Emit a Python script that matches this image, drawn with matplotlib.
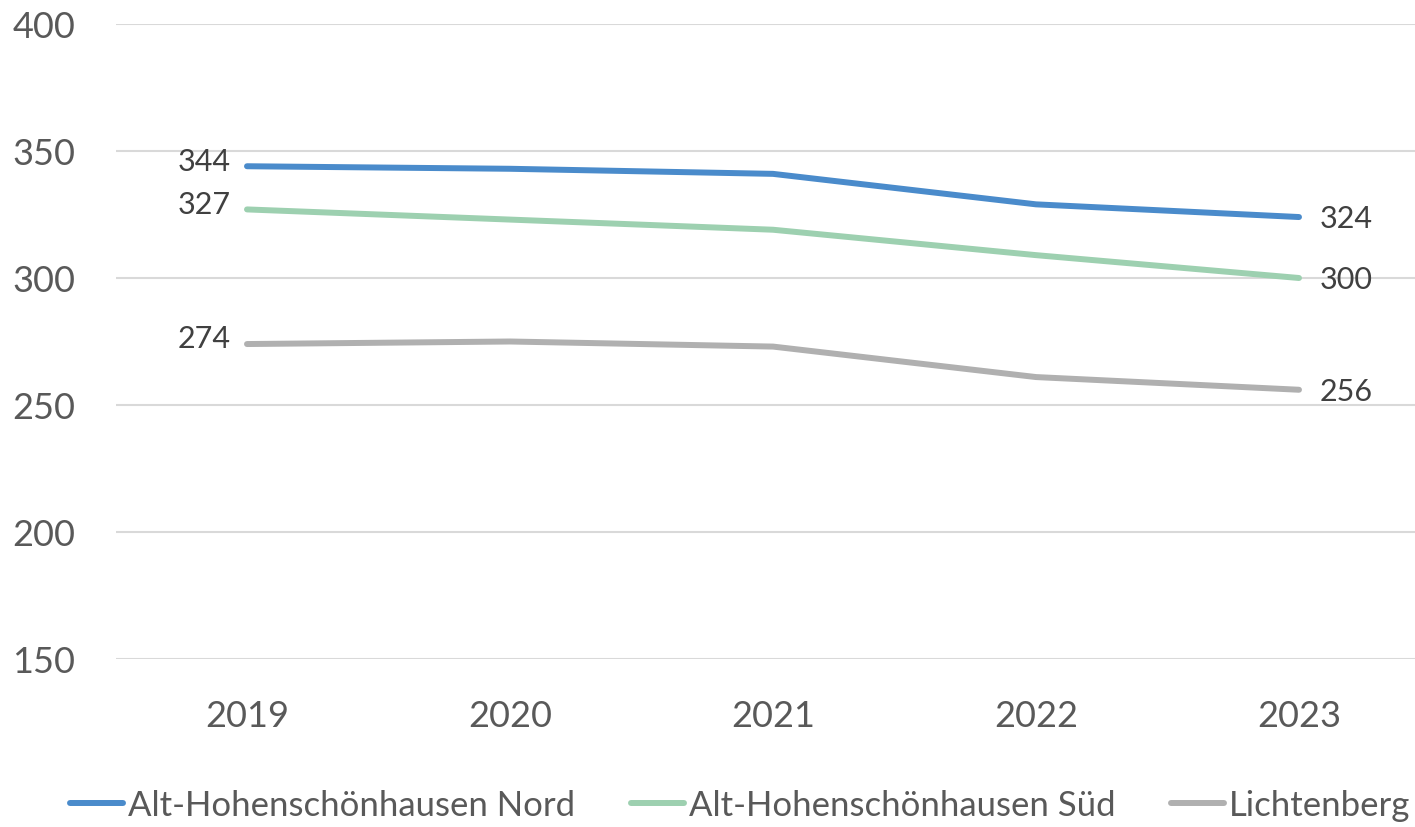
import matplotlib
matplotlib.use('Agg')
import matplotlib.pyplot as plt

plt.rcParams['font.family'] = ['Lato', 'DejaVu Sans']

years = ['2019', '2020', '2021', '2022', '2023']
nord = [344, 343, 341, 329, 324]
sued = [327, 323, 319, 309, 300]
lichtenberg = [274, 275, 273, 261, 256]

series_names = ['Alt-Hohenschönhausen Nord', 'Alt-Hohenschönhausen Süd', 'Lichtenberg']
series_vals = [nord, sued, lichtenberg]
colors = ['#4a8bcb', '#9dd0b0', '#b0b0b0']

fig = plt.figure(figsize=(14.15, 8.28), dpi=100)
# axes runs a little past the right edge, as in the source
ax = fig.add_axes([115.5 / 1415, 168 / 828, 1315 / 1415, 635 / 828])

x = range(len(years))
for name, vals, c in zip(series_names, series_vals, colors):
    ax.plot(x, vals, color=c, lw=4.3, solid_capstyle='round', label=name)
    ax.annotate(str(vals[0]), (0, vals[0]), xytext=(-12, 4), textcoords='offset points',
                ha='right', va='center', fontsize=22, color='#404040')
    ax.annotate(str(vals[-1]), (4, vals[-1]), xytext=(15, -1), textcoords='offset points',
                ha='left', va='center', fontsize=22, color='#404040')

ax.set_xlim(-0.5, 4.5)
ax.set_ylim(150, 400)
ax.set_yticks([150, 200, 250, 300, 350, 400])
ax.set_xticks(list(x))
ax.set_xticklabels(years)
ax.grid(axis='y', color='#d9d9d9', lw=1.5)
ax.set_axisbelow(True)
for s in ax.spines.values():
    s.set_visible(False)
ax.tick_params(axis='both', length=0, labelsize=26, labelcolor='#595959')
ax.tick_params(axis='y', pad=29)
ax.tick_params(axis='x', pad=29)

fig.legend(loc='center', bbox_to_anchor=(740 / 1415, 1 - 806 / 828), ncol=3,
           frameon=False, fontsize=25, labelcolor='#595959',
           handlelength=1.53, handletextpad=0.14, columnspacing=1.6)

fig.savefig('out.png', dpi=100)
